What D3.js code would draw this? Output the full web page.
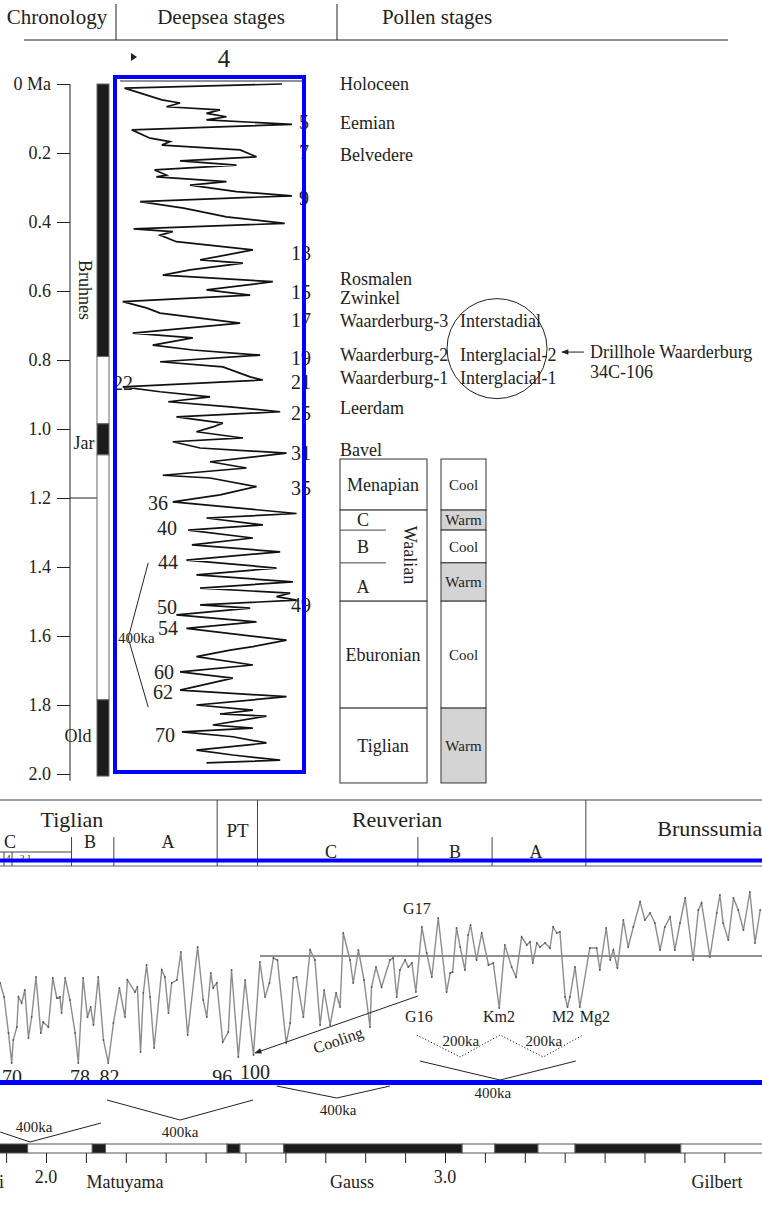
<!DOCTYPE html>
<html>
<head>
<meta charset="utf-8">
<title>Deepsea and pollen stages</title>
<script src="https://d3js.org/d3.v7.min.js"></script>
<style>
  body { margin: 0; background: #fff; }
  svg { display: block; font-family: "Liberation Serif", "Times New Roman", serif; }
</style>
</head>
<body>
<svg width="762" height="1206"></svg>
<script>
// ---------- top panel data (age in ka, d18O) ----------
const topAgeTicks = [0, 0.2, 0.4, 0.6, 0.8, 1.0, 1.2, 1.4, 1.6, 1.8, 2.0];

const deepseaAgeKa = [0,12,46,55,66,75,85,95,104,117,133,157,167,177,191,211,223,235,249,264,
  269,283,293,312,324,341,360,385,404,420,428,438,457,481,510,519,539,554,573,597,
  612,631,649,664,693,722,736,757,771,786,805,820,849,858,878,892,907,921,936,950,
  965,983,994,1008,1026,1037,1055,1070,1095,1113,1134,1142,1167,1191,1211,1245,1258,1278,1293,1316,
  1336,1356,1380,1403,1423,1443,1461,1476,1486,1496,1510,1519,1539,1559,1578,1612,1631,1641,1660,1684,
  1704,1722,1757,1776,1800,1815,1826,1832,1858,1867,1878,1892,1910,1931,1945,1960,1968];
const deepseaD18O = [3.22,4.95,4.54,4.34,4.49,3.90,4.05,3.83,4.05,3.11,4.87,4.67,4.45,4.54,3.68,3.50,4.34,3.72,4.62,4.49,
  4.60,3.83,4.23,3.72,3.11,4.78,4.30,3.83,3.19,4.85,4.42,4.56,4.38,3.54,4.12,3.65,4.23,4.53,3.32,4.05,
  3.57,4.97,4.71,4.56,3.68,4.86,4.20,4.64,4.20,3.46,4.56,3.87,3.57,3.43,4.97,4.56,4.01,4.47,3.79,3.24,
  4.38,3.87,3.98,4.16,3.65,4.42,4.12,3.17,4.01,3.61,4.53,4.01,3.50,3.90,4.42,3.06,4.05,3.43,4.25,3.54,
  4.21,3.24,4.27,3.28,4.16,3.10,4.12,3.13,3.28,3.06,4.12,3.57,4.38,3.50,4.27,3.17,3.54,3.79,4.16,3.54,
  4.34,3.76,4.34,3.17,4.16,3.54,3.90,3.39,3.98,3.54,4.32,3.76,3.39,4.16,3.76,3.24,4.05];

const stageRight = ['5','7','9','13','15','17','19','21','25','31','35','49'];
const stageRightAge = [0.109,0.196,0.330,0.489,0.602,0.684,0.794,0.863,0.954,1.070,1.171,1.510];
const stageLeft = ['22','36','40','44','50','54','60','62','70'];
const stageLeftAge = [0.867,1.214,1.287,1.386,1.516,1.577,1.704,1.762,1.887];
const stageLeftEnd = [133,168,177,178,177,178,174,173,175];

const chronTopFrom = [0, 0.79, 0.985, 1.075, 1.785];
const chronTopTo = [0.79, 0.985, 1.075, 1.785, 2.006];
const chronTopNormal = [1, 0, 1, 0, 1];

const pollenNames = ['Holoceen','Eemian','Belvedere','Rosmalen','Zwinkel','Waarderburg-3','Waarderburg-2','Waarderburg-1','Leerdam','Bavel'];
const pollenAges = [0.0, 0.113, 0.206, 0.563, 0.620, 0.687, 0.786, 0.852, 0.939, 1.061];
const waardNames = ['Interstadial','Interglacial-2','Interglacial-1'];
const waardAges = [0.687, 0.786, 0.852];

const unitNames = ['Menapian','Waalian','Eburonian','Tiglian'];
const unitFrom = [1.087, 1.235, 1.499, 1.809];
const unitTo = [1.235, 1.499, 1.809, 2.026];
const waalianSub = ['C','B','A'];
const waalianFrom = [1.235, 1.293, 1.388];
const waalianTo = [1.293, 1.388, 1.499];
const climateNames = ['Cool','Warm','Cool','Warm','Cool','Warm'];
const climateFrom = [1.087, 1.235, 1.293, 1.388, 1.499, 1.809];
const climateTo = [1.235, 1.293, 1.388, 1.499, 1.809, 2.026];

// ---------- bottom panel data (age in Ma, d18O) ----------
const plioAge = [1.885,1.895,1.906,1.914,1.918,1.927,1.931,1.939,1.947,1.956,1.964,1.975,1.987,1.993,2.006,2.017,2.027,2.035,2.039,2.048,
  2.060,2.073,2.081,2.093,2.104,2.112,2.119,2.131,2.144,2.156,2.169,2.184,2.198,2.204,2.223,2.229,2.237,2.244,2.252,2.261,
  2.271,2.290,2.298,2.307,2.315,2.328,2.338,2.355,2.380,2.394,2.403,2.413,2.419,2.428,2.443,2.457,2.465,2.482,2.499,2.520,
  2.536,2.549,2.560,2.570,2.580,2.602,2.612,2.620,2.628,2.645,2.662,2.674,2.687,2.697,2.712,2.727,2.737,2.745,2.762,2.770,
  2.783,2.797,2.812,2.816,2.827,2.841,2.862,2.870,2.879,2.887,2.900,2.908,2.917,2.927,2.942,2.954,2.967,2.983,3.004,3.013,
  3.019,3.029,3.038,3.050,3.058,3.064,3.079,3.092,3.109,3.121,3.136,3.150,3.167,3.178,3.192,3.205,3.213,3.220,3.230,3.238,
  3.251,3.263,3.271,3.280,3.288,3.301,3.307,3.313,3.326,3.338,3.363,3.380,3.388,3.404,3.414,3.422,3.432,3.447,3.459,3.472,
  3.489,3.501,3.514,3.526,3.539,3.551,3.564,3.576,3.589,3.602,3.622,3.635,3.643,3.664,3.681,3.689,3.697,3.710,3.723,3.735,
  3.748,3.764,3.777,3.790];
const plioD18O = [3.63,3.77,4.13,4.43,4.20,4.07,3.77,3.83,3.70,4.18,3.97,3.57,4.13,4.02,4.07,3.58,3.78,3.77,3.93,3.58,
  3.80,4.13,4.43,3.58,3.97,3.87,4.05,3.57,4.20,4.43,4.03,3.68,3.97,3.60,3.72,3.67,4.32,3.73,3.45,3.77,
  4.28,3.50,3.57,3.93,3.63,3.60,3.32,4.15,3.27,3.80,3.97,3.53,3.68,3.63,4.22,4.12,3.50,4.37,3.60,4.35,
  3.42,3.77,3.63,3.38,3.40,4.23,4.03,3.58,3.57,3.97,3.30,3.40,4.05,3.70,4.05,3.73,3.87,3.13,3.40,3.63,
  3.30,3.60,4.07,3.67,3.47,3.67,3.40,3.38,3.77,3.50,3.40,3.47,3.43,3.72,3.07,3.33,3.57,2.98,3.72,3.53,
  3.52,3.08,3.27,3.50,3.15,3.05,3.40,3.13,3.45,3.43,3.88,3.25,3.47,3.57,3.17,3.25,3.22,3.43,3.23,3.27,
  3.23,3.28,3.07,3.13,3.12,3.77,3.87,3.77,3.47,3.87,3.28,3.28,3.50,3.08,3.40,3.30,3.48,3.00,3.27,3.07,
  2.82,3.00,2.93,3.03,3.30,3.07,2.97,3.30,3.03,2.78,3.40,2.90,2.83,3.37,2.93,2.75,3.03,3.20,2.78,2.90,
  3.10,2.72,3.23,2.90];
const plioRefLevel = 3.36;

const botTicks = [1.9,2.0,2.1,2.2,2.3,2.4,2.5,2.6,2.7,2.8,2.9,3.0,3.1,3.2,3.3,3.4,3.5,3.6,3.7];
const botTickLabels = [2.0, 3.0];
const chronBotFrom = [1.80,1.954,2.116,2.149,2.454,2.486,2.596,3.043,3.125,3.233,3.326,3.591];
const chronBotTo = [1.954,2.116,2.149,2.454,2.486,2.596,3.043,3.125,3.233,3.326,3.591,3.90];
const chronBotNormal = [1,0,1,0,1,0,1,0,1,0,1,0];
const chronBotNames = ['Olduvai','Matuyama','Gauss','Gilbert'];
const chronBotAges = [1.895, 2.198, 2.767, 3.682];

const periodNames = ['Tiglian','PT','Reuverian','Brunssumian'];
const periodBounds = [2.429, 2.530, 3.353];
const periodLabelAge = [2.065, 2.480, 2.880, 3.532];
const subNames = ['C','B','A','C','B','A'];
const subAges = [1.910, 2.110, 2.306, 2.714, 3.025, 3.228];
const subBounds = [2.064, 2.170, 2.932, 3.118];

const botStages = ['70','78','82','96','100'];
const botStageAges = [1.915, 2.085, 2.159, 2.442, 2.524];
const eventNames = ['G17','G16','Km2','M2','Mg2'];
const eventAges = [2.895, 2.900, 3.095, 3.268, 3.338];
const eventD18O = [2.88, 3.96, 3.96, 3.96, 3.96];

// brackets [age, d18O]
const brackets400 = [
  [[1.885,5.12],[1.960,5.22],[2.138,5.03]],
  [[2.153,4.80],[2.336,5.00],[2.519,4.80]],
  [[2.578,4.66],[2.729,4.78],[2.862,4.66]],
  [[2.937,4.41],[3.138,4.60],[3.328,4.41]]];
const bracketLabelAt = [[1.970,5.07],[2.336,5.12],[2.732,4.90],[3.120,4.73]];
const bracket200 = [[2.929,4.15],[3.038,4.37],[3.138,4.15],[3.246,4.37],[3.346,4.15]];
const bracket200LabelAt = [[3.040,4.21],[3.248,4.21]];

// ---------- drawing ----------
const ink = '#222';
const svg = d3.select('svg');
svg.append('rect').attr('width', 762).attr('height', 1206).attr('fill', '#fff');

const defs = svg.append('defs');
defs.append('marker').attr('id', 'arrow')
  .attr('viewBox', '0 0 10 10').attr('refX', 9).attr('refY', 5)
  .attr('markerWidth', 9).attr('markerHeight', 7).attr('orient', 'auto')
  .append('path').attr('d', 'M0,1L10,5L0,9Z').attr('fill', ink);

function label(g, x, y, txt, size, anchor) {
  return g.append('text').attr('x', x).attr('y', y)
    .attr('font-size', size).attr('text-anchor', anchor || 'start')
    .attr('fill', ink).text(txt);
}

// header
const head = svg.append('g');
label(head, 57, 24, 'Chronology', 21, 'middle');
label(head, 221, 24, 'Deepsea stages', 21, 'middle');
label(head, 437, 24, 'Pollen stages', 21, 'middle');
head.append('line').attr('x1', 116).attr('x2', 116).attr('y1', 4).attr('y2', 40).attr('stroke', ink);
head.append('line').attr('x1', 337).attr('x2', 337).attr('y1', 4).attr('y2', 40).attr('stroke', ink);
head.append('line').attr('x1', 24).attr('x2', 728).attr('y1', 40).attr('y2', 40).attr('stroke', ink);
head.append('path').attr('d', 'M131,53L137,57L131,61Z').attr('fill', ink);
label(head, 224, 67, '4', 25, 'middle');

// top scales
const xTop = d3.scaleLinear().domain([5.0, 3.0]).range([120, 302]);
const yTop = d3.scaleLinear().domain([0, 2.0]).range([84, 774]);

// age axis
const gAx = svg.append('g').attr('transform', 'translate(70,0)')
  .call(d3.axisLeft(yTop).tickValues(topAgeTicks).tickSize(13).tickPadding(6)
    .tickFormat(d => d === 0 ? '0 Ma' : d3.format('.1f')(d)));
gAx.select('.domain').remove();
gAx.selectAll('line').attr('stroke', ink);
gAx.selectAll('text').attr('font-size', 18).attr('font-family', '"Liberation Serif", serif').attr('fill', ink);
svg.append('line').attr('x1', 70).attr('x2', 70).attr('y1', yTop(0)).attr('y2', yTop(2.02)).attr('stroke', ink);
svg.append('line').attr('x1', 70).attr('x2', 97).attr('y1', yTop(1.2)).attr('y2', yTop(1.2)).attr('stroke', ink);

// magnetic chronology bar
const chronTop = svg.append('g');
chronTopFrom.forEach((f, i) => {
  chronTop.append('rect').attr('x', 97).attr('width', 12)
    .attr('y', yTop(f)).attr('height', yTop(chronTopTo[i]) - yTop(f))
    .attr('fill', chronTopNormal[i] ? '#1c1c1c' : '#fff')
    .attr('stroke', '#666').attr('stroke-width', 1);
});
label(chronTop, 85, yTop(0.597), 'Bruhnes', 18, 'middle')
  .attr('transform', `rotate(90,85,${yTop(0.597)})`).attr('dy', '0.35em');
label(chronTop, 84, yTop(1.04), 'Jar', 18, 'middle').attr('dy', '0.35em');
label(chronTop, 78, yTop(1.89), 'Old', 18, 'middle').attr('dy', '0.35em');

// deepsea curve
const topPts = deepseaAgeKa.map((a, i) => [a / 1000, deepseaD18O[i]]);
svg.append('line').attr('x1', 120).attr('x2', 303).attr('y1', 81).attr('y2', 81).attr('stroke', ink);
svg.append('path').datum(topPts)
  .attr('d', d3.line().x(d => xTop(d[1])).y(d => yTop(d[0])))
  .attr('fill', 'none').attr('stroke', '#111').attr('stroke-width', 1.7)
  .attr('stroke-linejoin', 'miter');

// stage numbers
const stg = svg.append('g');
stageRight.forEach((s, i) => {
  label(stg, s.length > 1 ? 291 : 299, yTop(stageRightAge[i]), s, 20).attr('dy', '0.35em');
});
stageLeft.forEach((s, i) => {
  label(stg, stageLeftEnd[i], yTop(stageLeftAge[i]), s, 20, 'end').attr('dy', '0.35em');
});

// 400ka bracket in top panel
svg.append('path').datum([[1.388, 4.69], [1.606, 4.91], [1.806, 4.69]])
  .attr('d', d3.line().x(d => xTop(d[1])).y(d => yTop(d[0])))
  .attr('fill', 'none').attr('stroke', ink).attr('stroke-width', 1);
label(svg, xTop(4.82), yTop(1.606), '400ka', 15, 'middle').attr('dy', '0.35em');

// blue frame
svg.append('rect').attr('x', 115).attr('y', 77).attr('width', 189).attr('height', 695)
  .attr('fill', 'none').attr('stroke', '#0000ff').attr('stroke-width', 4);

// pollen names
const pol = svg.append('g');
pollenNames.forEach((n, i) => label(pol, 340, yTop(pollenAges[i]), n, 18).attr('dy', '0.35em'));
waardNames.forEach((n, i) => label(pol, 460, yTop(waardAges[i]), n, 18).attr('dy', '0.35em'));
pol.append('circle').attr('cx', 497).attr('cy', yTop(0.767)).attr('r', 50)
  .attr('fill', 'none').attr('stroke', ink).attr('stroke-width', 1);
pol.append('line').attr('x1', 584).attr('x2', 562).attr('y1', yTop(0.777)).attr('y2', yTop(0.777))
  .attr('stroke', ink).attr('marker-end', 'url(#arrow)');
label(pol, 590, yTop(0.777), 'Drillhole Waarderburg', 18).attr('dy', '0.35em');
label(pol, 590, yTop(0.835), '34C-106', 18).attr('dy', '0.35em');

// pollen stage table
const tab = svg.append('g');
unitFrom.forEach((f, i) => {
  tab.append('rect').attr('x', 340).attr('width', 87)
    .attr('y', yTop(f)).attr('height', yTop(unitTo[i]) - yTop(f))
    .attr('fill', '#fff').attr('stroke', '#333').attr('stroke-width', 1);
  if (unitNames[i] === 'Waalian') {
    const cx = 410, cy = yTop(1.365);
    label(tab, cx, cy, unitNames[i], 18, 'middle').attr('dy', '0.35em')
      .attr('transform', `rotate(90,${cx},${cy})`);
  } else {
    label(tab, 383, yTop((f + unitTo[i]) / 2), unitNames[i], 18, 'middle').attr('dy', '0.35em');
  }
});
waalianSub.forEach((s, i) => {
  if (i > 0) {
    tab.append('line').attr('x1', 340).attr('x2', 386)
      .attr('y1', yTop(waalianFrom[i])).attr('y2', yTop(waalianFrom[i])).attr('stroke', '#444');
  }
  label(tab, 363, yTop((waalianFrom[i] + waalianTo[i]) / 2) + (i === 2 ? 5 : 0), s, 18, 'middle').attr('dy', '0.35em');
});
climateFrom.forEach((f, i) => {
  tab.append('rect').attr('x', 441).attr('width', 45)
    .attr('y', yTop(f)).attr('height', yTop(climateTo[i]) - yTop(f))
    .attr('fill', climateNames[i] === 'Warm' ? '#d4d4d4' : '#fff')
    .attr('stroke', '#333').attr('stroke-width', 1);
  label(tab, 463.5, yTop((f + climateTo[i]) / 2), climateNames[i], 15, 'middle').attr('dy', '0.35em');
});

// ---------- bottom panel ----------
const xBot = d3.scaleLinear().domain([2.0, 3.0]).range([46, 445]);
const yBot = d3.scaleLinear().domain([2.5, 4.5]).range([870, 1070]);

// stratigraphic header
const bh = svg.append('g');
bh.append('line').attr('x1', 0).attr('x2', 762).attr('y1', 800).attr('y2', 800).attr('stroke', '#444');
bh.append('line').attr('x1', 0).attr('x2', 762).attr('y1', 866).attr('y2', 866).attr('stroke', '#666');
periodBounds.forEach(a => {
  bh.append('line').attr('x1', xBot(a)).attr('x2', xBot(a)).attr('y1', 800).attr('y2', 866).attr('stroke', '#444');
});
subBounds.forEach(a => {
  bh.append('line').attr('x1', xBot(a)).attr('x2', xBot(a)).attr('y1', 837).attr('y2', 866).attr('stroke', '#444');
});
periodNames.forEach((n, i) => {
  const anchor = i === 3 ? 'start' : 'middle';
  const y = (i === 1) ? 837 : (i === 3 ? 836 : 827);
  label(bh, xBot(periodLabelAge[i]), y, n, i === 1 ? 19 : 22, anchor);
});
subNames.forEach((n, i) => {
  label(bh, xBot(subAges[i]), i < 3 ? 848 : 858, n, 18, 'middle');
});
bh.append('line').attr('x1', 0).attr('x2', xBot(subBounds[0])).attr('y1', 852).attr('y2', 852).attr('stroke', '#444');
bh.append('line').attr('x1', 4).attr('x2', 4).attr('y1', 852).attr('y2', 866).attr('stroke', '#444');
bh.append('line').attr('x1', 12).attr('x2', 12).attr('y1', 852).attr('y2', 866).attr('stroke', '#444');
label(bh, 6, 861, '4', 9, 'start');
label(bh, 20, 861, '2  1', 9, 'start');
bh.append('line').attr('x1', 0).attr('x2', 762).attr('y1', 860.5).attr('y2', 860.5)
  .attr('stroke', '#0000ff').attr('stroke-width', 4);

// reference level
svg.append('line').attr('x1', 260).attr('x2', 762)
  .attr('y1', yBot(plioRefLevel)).attr('y2', yBot(plioRefLevel)).attr('stroke', ink).attr('stroke-width', 1);

// pliocene curve
const botPts = plioAge.map((a, i) => [a, plioD18O[i]]);
svg.append('path').datum(botPts)
  .attr('d', d3.line().x(d => xBot(d[0])).y(d => yBot(d[1])))
  .attr('fill', 'none').attr('stroke', '#8c8c8c').attr('stroke-width', 1.4);
svg.append('g').selectAll('circle').data(botPts).join('circle')
  .attr('cx', d => xBot(d[0])).attr('cy', d => yBot(d[1])).attr('r', 0.9).attr('fill', '#555');

// event labels
eventNames.forEach((n, i) => {
  label(svg, xBot(eventAges[i]), yBot(eventD18O[i]), n, 16).attr('dy', '0.35em');
});

// cooling arrow
svg.append('line')
  .attr('x1', xBot(2.932)).attr('y1', yBot(3.76)).attr('x2', xBot(2.524)).attr('y2', yBot(4.33))
  .attr('stroke', ink).attr('stroke-width', 1).attr('marker-end', 'url(#arrow)');
const cx = xBot(2.732), cy = yBot(4.20);
label(svg, cx, cy, 'Cooling', 16, 'middle').attr('dy', '0.35em')
  .attr('transform', `rotate(-19.3,${cx},${cy})`);

// brackets
const brLine = d3.line().x(d => xBot(d[0])).y(d => yBot(d[1]));
brackets400.forEach((b, i) => {
  svg.append('path').attr('d', brLine(b)).attr('fill', 'none').attr('stroke', ink).attr('stroke-width', 1);
  label(svg, xBot(bracketLabelAt[i][0]), yBot(bracketLabelAt[i][1]), '400ka', 15, 'middle').attr('dy', '0.35em');
});
svg.append('path').attr('d', brLine(bracket200)).attr('fill', 'none')
  .attr('stroke', ink).attr('stroke-width', 1).attr('stroke-dasharray', '1.2,2');
bracket200LabelAt.forEach(p => {
  label(svg, xBot(p[0]), yBot(p[1]), '200ka', 15, 'middle').attr('dy', '0.35em');
});

// stage numbers under the curve
botStages.forEach((s, i) => {
  label(svg, xBot(botStageAges[i]), s === '100' ? 1079 : 1084, s, 20, 'middle');
});
svg.append('line').attr('x1', 0).attr('x2', 762).attr('y1', 1082.5).attr('y2', 1082.5)
  .attr('stroke', '#0000ff').attr('stroke-width', 5);

// polarity bar and time axis
const pb = svg.append('g');
chronBotFrom.forEach((f, i) => {
  pb.append('rect').attr('x', xBot(f)).attr('width', xBot(chronBotTo[i]) - xBot(f))
    .attr('y', 1144).attr('height', 9)
    .attr('fill', chronBotNormal[i] ? '#1c1c1c' : '#fff').attr('stroke', '#555').attr('stroke-width', 1);
});
const gBx = svg.append('g').attr('transform', 'translate(0,1153)')
  .call(d3.axisBottom(xBot).tickValues(botTicks).tickSize(10).tickFormat(''));
gBx.select('.domain').remove();
gBx.selectAll('line').attr('stroke', ink);
botTickLabels.forEach(a => label(svg, xBot(a), 1183, d3.format('.1f')(a), 18, 'middle'));
chronBotNames.forEach((n, i) => label(svg, xBot(chronBotAges[i]), 1188, n, 18, i === 0 ? 'end' : 'middle'));
</script>
</body>
</html>
